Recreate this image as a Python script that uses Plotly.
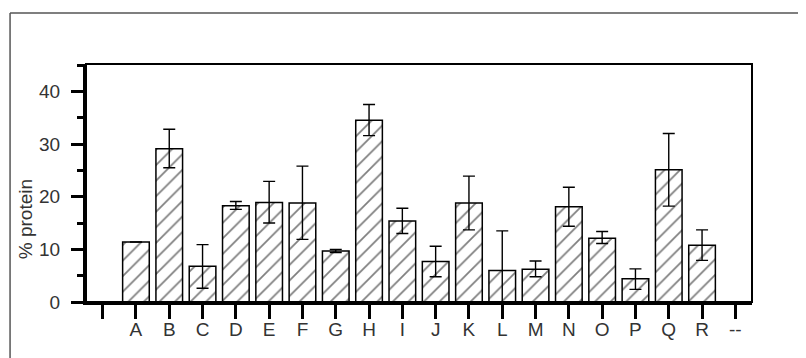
import plotly.graph_objects as go

categories = ["A", "B", "C", "D", "E", "F", "G", "H", "I", "J", "K", "L", "M", "N", "O", "P", "Q", "R"]
values = [11.4, 29.1, 6.8, 18.3, 18.9, 18.8, 9.7, 34.5, 15.4, 7.7, 18.8, 6.0, 6.2, 18.1, 12.1, 4.4, 25.1, 10.8]
err_plus = [0.0, 3.7, 4.1, 0.8, 4.0, 7.0, 0.3, 3.0, 2.4, 2.9, 5.1, 7.5, 1.6, 3.7, 1.3, 1.9, 6.9, 2.9]
err_minus = [0.0, 3.6, 4.2, 0.7, 3.9, 6.9, 0.3, 2.9, 2.4, 2.9, 5.1, 6.0, 1.4, 3.7, 1.0, 2.0, 6.9, 2.9]
tick_labels = [""] + categories + ["--"]
y_title = "% protein"

# page shows the figure offset by the default 8px body margin
OFF = 8
W, H = 806, 358
ML, MT = 86 - OFF, 64 - OFF
pw, ph = 666.5, 238.5
MR = W - ML - pw
MB = H - MT - ph

x_pos = list(range(1, len(categories) + 1))

fig = go.Figure()
fig.add_trace(go.Bar(
    x=x_pos, y=values, width=0.8,
    marker=dict(color="white", line=dict(color="black", width=1.5),
                pattern=dict(shape="/", fgcolor="black", bgcolor="white", size=11, solidity=0.16)),
    error_y=dict(type="data", symmetric=False, array=err_plus, arrayminus=err_minus,
                 color="black", thickness=1.4, width=6),
    showlegend=False,
))

def px_to_paper_x(px):
    return (px - OFF - ML) / pw

def px_to_paper_y(py):
    return (H - MB - (py - OFF)) / ph

shapes = [
    dict(type="rect", xref="paper", yref="paper", x0=0, x1=1, y0=0, y1=1,
         line=dict(color="black", width=2), layer="above"),
    dict(type="line", xref="paper", yref="paper",
         x0=px_to_paper_x(10), x1=px_to_paper_x(10), y0=px_to_paper_y(13), y1=px_to_paper_y(420),
         line=dict(color="#555", width=1.5)),
    dict(type="line", xref="paper", yref="paper",
         x0=px_to_paper_x(10), x1=px_to_paper_x(820), y0=px_to_paper_y(13), y1=px_to_paper_y(13),
         line=dict(color="#555", width=1.5)),
]

annotations = [
    dict(text=y_title, xref="paper", yref="paper",
         x=px_to_paper_x(25.5), y=px_to_paper_y(220), xanchor="center", yanchor="middle",
         textangle=-90, showarrow=False, font=dict(size=19, color="#333")),
]

fig.update_layout(
    width=W, height=H,
    margin=dict(l=ML, r=MR, t=MT, b=MB, pad=0),
    paper_bgcolor="white", plot_bgcolor="white",
    font=dict(family="Liberation Sans, Arial, sans-serif", color="#333", size=19),
    shapes=shapes,
    annotations=annotations,
    xaxis=dict(
        range=[-0.5, 19.5], tickmode="array", tickvals=list(range(len(tick_labels))),
        ticktext=tick_labels, ticks="outside", ticklen=14, tickwidth=2.5, tickcolor="black",
        showline=True, linecolor="black", linewidth=3, showgrid=False, zeroline=False,
        tickfont=dict(size=19, color="#333"), ticklabelstandoff=-6,
    ),
    yaxis=dict(
        range=[0, 45.2], tickmode="array", tickvals=[0, 10, 20, 30, 40],
        ticks="outside", ticklen=12, tickwidth=2.5, tickcolor="black",
        minor=dict(tickmode="array", tickvals=[5, 15, 25, 35, 45], ticks="outside",
                   ticklen=6, tickwidth=2.5, tickcolor="black"),
        showline=True, linecolor="black", linewidth=3, showgrid=False, zeroline=False,
        tickfont=dict(size=19, color="#333"), ticklabelstandoff=7,
    ),
)

fig.write_html("out.html")
